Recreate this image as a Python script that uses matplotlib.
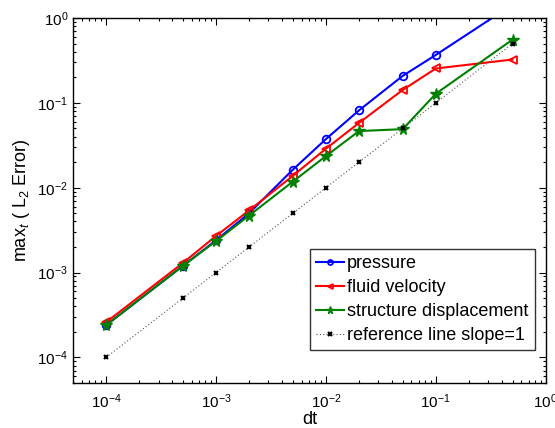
import numpy as np
import matplotlib
matplotlib.use("Agg")
import matplotlib.pyplot as plt

# ── Dati ────────────────────────────────────────────────────────────────────
dt = [1e-4, 5e-4, 1e-3, 2e-3, 5e-3, 1e-2, 2e-2, 5e-2, 1e-1, 5e-1]
pressure = [2.4e-4, 1.2e-3, 2.4e-3, 5.0e-3, 1.63e-2, 3.74e-2, 8.15e-2, 0.208, 0.367, 1.44]
fluid_velocity = [2.6e-4, 1.3e-3, 2.7e-3, 5.4e-3, 1.38e-2, 2.88e-2, 5.8e-2, 0.142, 0.254, 0.324]
structure_disp = [2.4e-4, 1.2e-3, 2.35e-3, 4.7e-3, 1.18e-2, 2.36e-2, 4.65e-2, 4.9e-2, 0.128, 0.557]
reference = [1e-4, 5e-4, 1e-3, 2e-3, 5e-3, 1e-2, 2e-2, 5e-2, 1e-1, 5e-1]

plt.rcParams["font.family"] = ["Liberation Sans", "DejaVu Sans"]
plt.rcParams["mathtext.fontset"] = "custom"
plt.rcParams["mathtext.rm"] = "Liberation Sans"
plt.rcParams["mathtext.it"] = "Liberation Sans:italic"

fig = plt.figure(figsize=(5.55, 4.28), dpi=100)
ax = fig.add_axes([0.1315, 0.1051, 0.8518, 0.8529])

ax.loglog(dt, pressure, "-o", color="blue", lw=1.5, ms=5.5, mfc="none",
          mew=1.3, label="pressure")
ax.loglog(dt, fluid_velocity, "-<", color="red", lw=1.5, ms=5.5, mfc="none",
          mew=1.3, label="fluid velocity")
ax.loglog(dt, structure_disp, "-*", color="green", lw=1.5, ms=8.5,
          label="structure displacement")
ax.loglog(dt, reference, "x", ls=(0, (1, 2)), color="#555555",
          lw=0.8, ms=3.5, mew=1.5, mec="black",
          label="reference line slope=1")

ax.set_xlim(5e-5, 1)
ax.set_ylim(5e-5, 1)
ax.set_xlabel("dt", fontsize=13, labelpad=0)
ax.set_ylabel(r"max$_t$ ( L$_2$ Error)", fontsize=13, labelpad=4)

ax.tick_params(which="both", direction="in", top=True, right=True,
               labelsize=11, width=0.8)
ax.tick_params(axis="x", which="major", pad=7)
ax.tick_params(which="major", length=5)
ax.tick_params(which="minor", length=2.5)
for sp in ax.spines.values():
    sp.set_linewidth(1.0)

leg = ax.legend(loc="lower right", bbox_to_anchor=(0.977, 0.090),
                fontsize=13, frameon=True, fancybox=False, edgecolor="black",
                handlelength=1.5, handletextpad=0.2, borderpad=0.35,
                labelspacing=0.38, borderaxespad=0.0, markerscale=0.65)
leg.get_frame().set_linewidth(1.0)

fig.savefig("out.png", dpi=100)
